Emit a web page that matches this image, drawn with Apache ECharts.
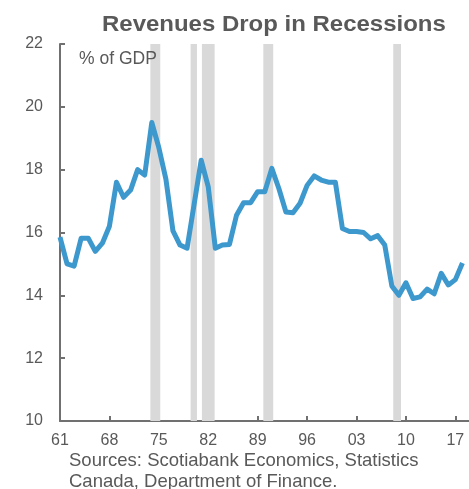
<!DOCTYPE html>
<html>
<head>
<meta charset="utf-8">
<script src="https://cdn.jsdelivr.net/npm/echarts@6/dist/echarts.min.js"></script>
<style>html,body{margin:0;padding:0;background:#fff}#c{width:469px;height:489px}</style>
</head>
<body>
<div id="c"></div>
<script>
// ---- data ----
const years = [1961,1962,1963,1964,1965,1966,1967,1968,1969,1970,1971,1972,1973,1974,1975,1976,1977,1978,1979,1980,
  1981,1982,1983,1984,1985,1986,1987,1988,1989,1990,1991,1992,1993,1994,1995,1996,1997,1998,1999,2000,
  2001,2002,2003,2004,2005,2006,2007,2008,2009,2010,2011,2012,2013,2014,2015,2016,2017,2018];
const revenues = [15.85,15.0,14.93,15.82,15.82,15.4,15.66,16.2,17.6,17.12,17.35,18.0,17.83,19.5,18.7,17.7,16.05,15.6,15.5,16.9,
  18.3,17.45,15.5,15.6,15.62,16.55,16.95,16.95,17.3,17.3,18.04,17.4,16.65,16.63,16.93,17.5,17.8,17.67,17.6,17.6,
  16.13,16.03,16.03,16.0,15.8,15.9,15.6,14.3,14.0,14.4,13.9,13.95,14.2,14.05,14.7,14.33,14.5,15.03];
const recessions = [[1973.8,1975.2],[1979.5,1980.4],[1981.1,1982.9],[1989.8,1991.2],[2008.2,2009.3]];
const xTicks = [1961,1968,1975,1982,1989,1996,2003,2010,2017];
const yTicks = [10,12,14,16,18,20,22];
const titleText = 'Revenues Drop in Recessions';
const unitText = '% of GDP';
const sourceText = 'Sources: Scotiabank Economics, Statistics\nCanada, Department of Finance.';

const grey = '#595959';
const font = 'Liberation Sans, Arial, sans-serif';
const chart = echarts.init(document.getElementById('c'));
chart.setOption({
  animation: false,
  grid: {left: 60, top: 44, right: 0, bottom: 68},
  graphic: [
    {type: 'text', x: 102, y: 14, scaleX: 1.09, z: 100,
      style: {text: titleText, font: 'bold 22px ' + font, fill: grey, textVerticalAlign: 'top'}},
    {type: 'text', x: 79, y: 50, z: 100, style: {text: unitText, font: '17.5px ' + font, fill: grey, textVerticalAlign: 'top'}},
    {type: 'text', x: 69, y: 450, z: 100, style: {text: sourceText, font: '18.5px ' + font, fill: grey, lineHeight: 21, textVerticalAlign: 'top'}}
  ],
  xAxis: {
    type: 'value', min: 1961, max: 2018.93,
    splitLine: {show: false},
    axisLine: {lineStyle: {color: '#707070', width: 2}},
    axisTick: {inside: true, length: 5, customValues: xTicks, lineStyle: {color: '#707070', width: 2}},
    axisLabel: {customValues: xTicks, margin: 12, fontFamily: font, fontSize: 16, color: grey,
      formatter: v => String(Math.round(v) % 100).padStart(2, '0')}
  },
  yAxis: {
    type: 'value', min: yTicks[0], max: yTicks[yTicks.length - 1], interval: 2,
    splitLine: {show: false},
    axisLine: {show: true, lineStyle: {color: '#707070', width: 2}},
    axisTick: {show: true, inside: true, length: 5, lineStyle: {color: '#707070', width: 2}},
    axisLabel: {margin: 17, fontFamily: font, fontSize: 16, color: grey}
  },
  series: [{
    type: 'line',
    data: years.map((y, i) => [y, revenues[i]]),
    showSymbol: false,
    lineStyle: {color: '#3d98cd', width: 5, join: 'round'},
    z: 3,
    markArea: {
      silent: true,
      itemStyle: {color: '#d9d9d9'},
      data: recessions.map(r => [{xAxis: r[0]}, {xAxis: r[1]}])
    }
  }]
});
</script>
</body>
</html>
